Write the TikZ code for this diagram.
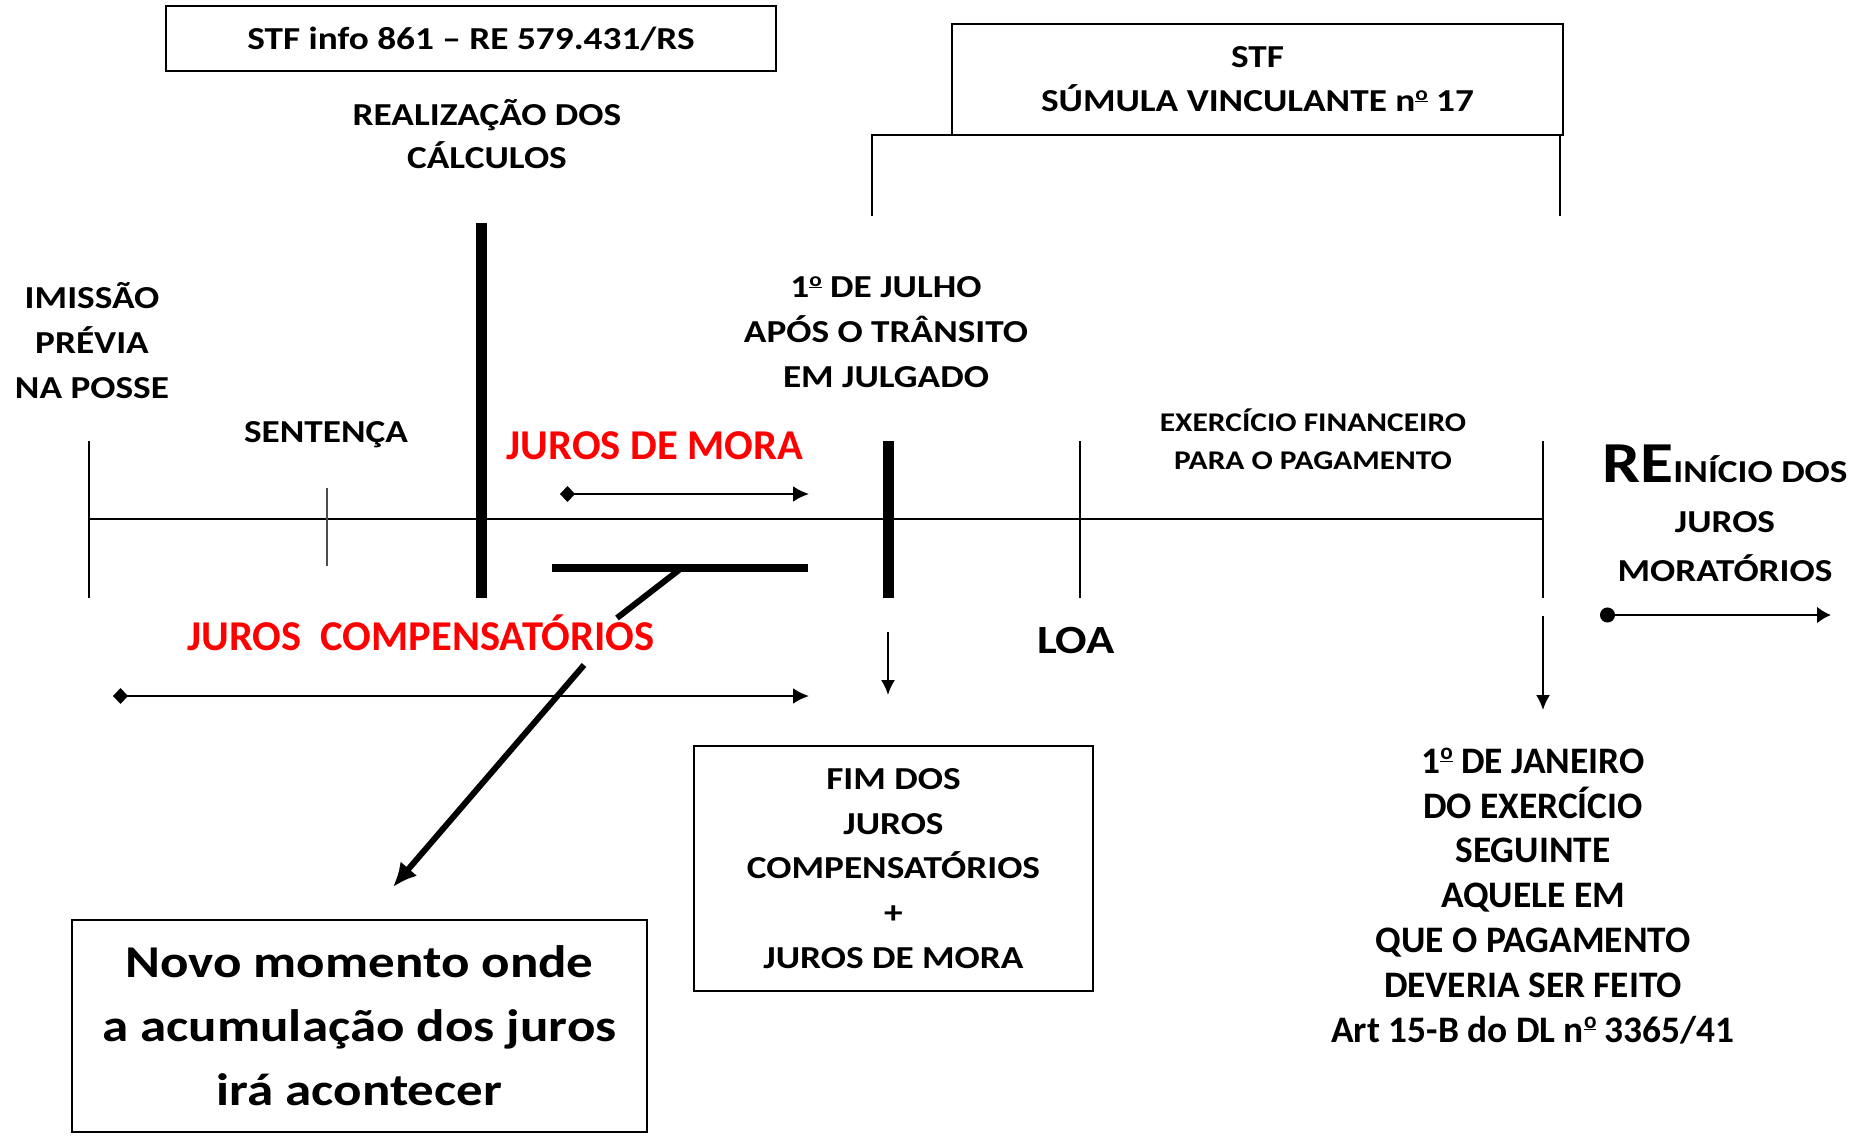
\documentclass[tikz,border=0pt]{standalone}
\usepackage{fontspec}
\setmainfont{Carlito}[FakeStretch=1.165]
\newfontfamily\plainf{Carlito}
\usetikzlibrary{arrows.meta}
\newcommand\fsz[2]{\fontsize{#1}{#2}\selectfont}
\newcommand\ordo{\raisebox{0.36em}{\scalebox{0.62}{\underline{o}}}}
\begin{document}
\begin{tikzpicture}[x=1pt,y=-1pt,font=\bfseries,
  lbl/.style={align=center,inner sep=0pt},
  boxed/.style={draw,line width=2pt,align=center,inner sep=0pt},
  tickline/.style={line width=2pt},
  heavybar/.style={line width=11pt},
  axisline/.style={line width=2.5pt},
  spanarrow/.style={line width=2.5pt,{Diamond[length=15pt,width=16pt]}-{Latex[length=16pt,width=16pt]}},
  downarrow/.style={line width=2pt,-{Latex[length=15pt,width=14pt]}}]
\useasboundingbox (0,0) rectangle (1858,1138);
\fill[white] (0,0) rectangle (1858,1138);

% top boxes
\node[boxed,minimum width=610pt,minimum height=65pt,font=\bfseries\fsz{32}{38}] (stfinfo) at (471,38.5)
  {STF info 861 – RE 579.431/RS};
\node[boxed,minimum width=611pt,minimum height=111pt,font=\bfseries\fsz{32}{44}] (sumula) at (1257.5,79.5)
  {STF\\SÚMULA VINCULANTE n\ordo{} 17};
\draw[tickline] (872,216) -- (872,135) -- (1000,135);
\draw[tickline] (1560,135) -- (1560,216);

% labels above the axis
\node[lbl,font=\bfseries\fsz{32}{43}] (calc) at (487,134.5) {REALIZAÇÃO DOS\\CÁLCULOS};
\node[lbl,font=\bfseries\fsz{32}{45}] (imissao) at (92,341) {IMISSÃO\\PRÉVIA\\NA POSSE};
\node[lbl,font=\bfseries\fsz{32}{38}] (sentenca) at (326,434.5) {SENTENÇA};
\node[lbl,font=\bfseries\fsz{32}{45}] (julho) at (886,332) {1\ordo{} DE JULHO\\APÓS O TRÂNSITO\\EM JULGADO};
\node[lbl,font=\bfseries\fsz{27}{38}] (exerc) at (1313,439) {EXERCÍCIO FINANCEIRO\\PARA O PAGAMENTO};
\node[lbl,text=red,font=\plainf\bfseries\fsz{42.5}{42}] (mora) at (655,446) {JUROS DE MORA};
\node[lbl,font=\bfseries\fsz{32}{49.5}] (reinicio) at (1725,513.5)
  {{\fsz{58}{49.5}RE}{\fsz{32}{49.5}INÍCIO DOS}\\JUROS\\MORATÓRIOS};

% axis and ticks
\coordinate (a0) at (89,519);
\coordinate (a1) at (1543,519);
\draw[axisline] (a0) -- (a1);
\draw[tickline] (89,441) -- (89,598);
\draw[line width=1.5pt,black!70] (327,488) -- (327,566);
\draw[tickline] (1080,441) -- (1080,598);
\draw[tickline] (1543,441) -- (1543,598);
\draw[heavybar] (481,223) -- (481,598);
\draw[heavybar] (888,441) -- (888,598);

% interest spans
\coordinate (m0) at (560,494);
\coordinate (m1) at (809,494);
\draw[spanarrow] (m0) -- (m1);
\coordinate (c0) at (113,696);
\coordinate (c1) at (809,696);
\draw[spanarrow] (c0) -- (c1);
\coordinate (r0) at (1600,615);
\coordinate (r1) at (1831,615);
\draw[line width=2.5pt,{Circle[length=15pt]}-{Latex[length=14pt,width=17pt]}] (r0) -- (r1);

% T bar and pointer
\coordinate (t0) at (552,568);
\coordinate (t1) at (808,568);
\draw[line width=8pt] (t0) -- (t1);
\coordinate (p0) at (679,570);
\coordinate (p1) at (617,618);
\coordinate (p2) at (584,665);
\coordinate (p3) at (393,887);
\draw[line width=6pt] (p0) -- (p1);
\draw[line width=6pt,-{Latex[length=24pt,width=22pt]}] (p2) -- (p3);

\node[lbl,text=red,font=\plainf\bfseries\fsz{42.5}{42}] (comp) at (421,632.5) {JUROS\ \ COMPENSATÓRIOS};
\node[lbl,font=\bfseries\fsz{40}{41}] (loa) at (1076,641) {LOA};

% down arrows
\coordinate (d0) at (888,632);
\coordinate (d1) at (888,695);
\draw[downarrow] (d0) -- (d1);
\coordinate (e0) at (1543,616);
\coordinate (e1) at (1543,710);
\draw[downarrow] (e0) -- (e1);

% bottom boxes
\node[boxed,minimum width=399pt,minimum height=245pt,font=\bfseries\fsz{32}{44.7}] (fim) at (893.5,868.5)
  {FIM DOS\\JUROS\\COMPENSATÓRIOS\\+\\JUROS DE MORA};
\node[boxed,minimum width=575pt,minimum height=212pt,font=\bfseries\fsz{45.5}{64}] (novo) at (359.5,1026)
  {Novo momento onde\\a acumulação dos juros\\irá acontecer};
\node[lbl,font=\plainf\bfseries\fsz{37.4}{44.8}] (janeiro) at (1533,896) {1\ordo{} DE JANEIRO\\DO EXERCÍCIO\\SEGUINTE\\AQUELE EM\\QUE O PAGAMENTO\\DEVERIA SER FEITO\\Art 15-B do DL n\ordo{} 3365/41};
\end{tikzpicture}
\end{document}
